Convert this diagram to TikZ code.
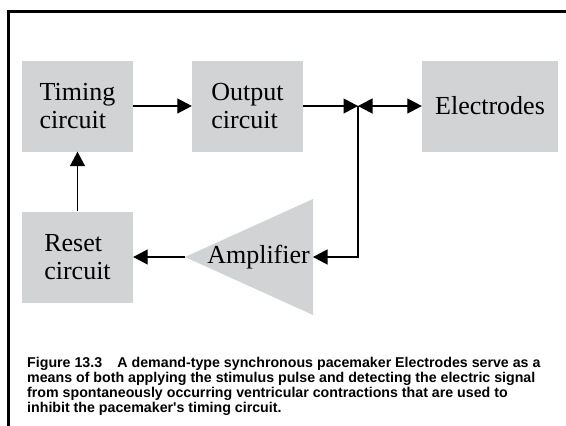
\documentclass[tikz,border=0pt]{standalone}
\usepackage{fontspec}
\setmainfont{Liberation Serif}
\newfontfamily\capfont{Liberation Sans}
\usepackage{tikz}
\usetikzlibrary{arrows.meta,positioning,calc}

\definecolor{boxgray}{RGB}{209,211,212}

\begin{document}
\begin{tikzpicture}[
  x=1pt, y=-1pt,
  blk/.style={fill=boxgray, minimum width=111pt, minimum height=91pt,
    align=left, inner sep=0pt, font=\fontsize{26}{28}\selectfont},
  arr/.style={-{Triangle[length=14.5pt,width=15pt]}, line width=1.2pt},
  darr/.style={{Triangle[length=14.5pt,width=15pt]}-{Triangle[length=14.5pt,width=15pt]}, line width=1.2pt}
]
\useasboundingbox (0,0) rectangle (566,426);
% frame
\draw[line width=3pt] (8,426) -- (8,11) -- (566,11);

% blocks
\node[blk] (timing) at (77.5,106) {Timing\\circuit};
\node[blk] (output) at (247.5,106) {Output\\circuit};
\node[blk, minimum width=136pt, align=center] (electrodes) at (490,106) {Electrodes};
\node[blk] (reset) at (77.5,257) {Reset\\circuit};

% amplifier
\coordinate (ampapex) at (185,257);
\coordinate (ampbase) at (313,257);
\fill[boxgray] (ampapex) -- (313,199) -- (313,315) -- cycle;
\node[anchor=east, inner sep=0pt, font=\fontsize{26}{28}\selectfont] (amp) at (310,257) {Amplifier};

\coordinate (jn) at (358,106);

\draw[arr] (timing) -- (output);
\draw[arr] (output) -- (jn);
\draw[darr] (jn) -- (electrodes);
\draw[arr] (jn) |- (ampbase);
\draw[arr] (ampapex) -- (reset);
\draw[arr] (reset) -- (timing);

% caption
\node[anchor=base west, align=left, inner sep=0pt,
  font=\capfont\bfseries\fontsize{14.2}{15}\selectfont] (cap) at (27,412)
  {Figure 13.3\hspace{0.8em} A demand-type synchronous pacemaker Electrodes serve as a\\
   means of both applying the stimulus pulse and detecting the electric signal\\
   from spontaneously occurring ventricular contractions that are used to\\
   inhibit the pacemaker's timing circuit.};
\end{tikzpicture}
\end{document}
